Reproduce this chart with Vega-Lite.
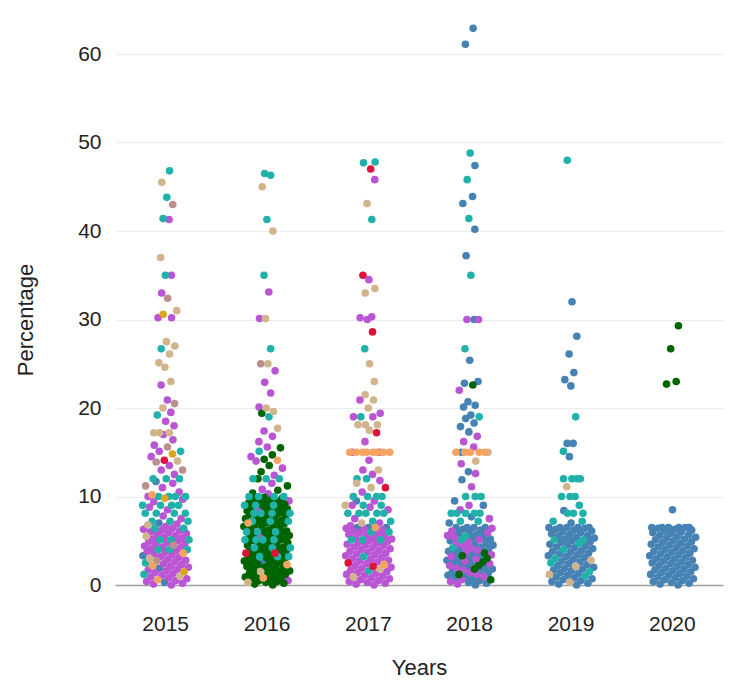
{
"$schema":"https://vega.github.io/schema/vega-lite/v6.json",
"width":608,"height":531,
"padding":{"left":14,"top":24,"right":14,"bottom":8},
"config":{"view":{"stroke":null},"font":"Liberation Sans"},
"data":{"values":[
{"year":2015,"group":"G2","pct":0},{"year":2015,"group":"G2","pct":0.1},{"year":2015,"group":"G2","pct":0.2},{"year":2015,"group":"G2","pct":0.4},{"year":2015,"group":"G2","pct":0.5},{"year":2015,"group":"G2","pct":0.7},{"year":2015,"group":"G2","pct":0.8},{"year":2015,"group":"G2","pct":0.9},{"year":2015,"group":"G2","pct":1.1},{"year":2015,"group":"G2","pct":1.3},{"year":2015,"group":"G2","pct":1.4},{"year":2015,"group":"G2","pct":1.6},{"year":2015,"group":"G2","pct":1.7},{"year":2015,"group":"G2","pct":1.8},{"year":2015,"group":"G2","pct":2},{"year":2015,"group":"G2","pct":2.1},{"year":2015,"group":"G2","pct":2.3},{"year":2015,"group":"G2","pct":2.4},{"year":2015,"group":"G2","pct":2.6},{"year":2015,"group":"G2","pct":2.8},{"year":2015,"group":"G2","pct":2.9},{"year":2015,"group":"G2","pct":3.1},{"year":2015,"group":"G2","pct":3.2},{"year":2015,"group":"G2","pct":3.4},{"year":2015,"group":"G2","pct":3.5},{"year":2015,"group":"G2","pct":3.7},{"year":2015,"group":"G2","pct":3.8},{"year":2015,"group":"G2","pct":3.9},{"year":2015,"group":"G2","pct":4.1},{"year":2015,"group":"G2","pct":4.2},{"year":2015,"group":"G2","pct":4.3},{"year":2015,"group":"G2","pct":4.4},{"year":2015,"group":"G2","pct":4.6},{"year":2015,"group":"G2","pct":4.7},{"year":2015,"group":"G2","pct":4.8},{"year":2015,"group":"G2","pct":4.9},{"year":2015,"group":"G2","pct":5},{"year":2015,"group":"G2","pct":5.2},{"year":2015,"group":"G2","pct":5.3},{"year":2015,"group":"G2","pct":5.4},{"year":2015,"group":"G2","pct":5.6},{"year":2015,"group":"G2","pct":5.7},{"year":2015,"group":"G2","pct":5.8},{"year":2015,"group":"G2","pct":5.9},{"year":2015,"group":"G2","pct":6},{"year":2015,"group":"G2","pct":6.1},{"year":2015,"group":"G2","pct":6.2},{"year":2015,"group":"G2","pct":6.3},{"year":2015,"group":"G2","pct":6.4},
{"year":2015,"group":"G2","pct":6.6},{"year":2015,"group":"G2","pct":6.9},{"year":2015,"group":"G2","pct":7.5},{"year":2015,"group":"G2","pct":7.8},{"year":2015,"group":"G2","pct":8.5},{"year":2015,"group":"G2","pct":8.8},{"year":2015,"group":"G2","pct":9.4},{"year":2015,"group":"G2","pct":9.7},{"year":2015,"group":"G2","pct":10},{"year":2015,"group":"G2","pct":10.5},{"year":2015,"group":"G2","pct":11},{"year":2015,"group":"G2","pct":11.5},{"year":2015,"group":"G2","pct":12.5},{"year":2015,"group":"G2","pct":13},{"year":2015,"group":"G2","pct":13.5},{"year":2015,"group":"G2","pct":14.5},{"year":2015,"group":"G2","pct":15.1},{"year":2015,"group":"G2","pct":15.8},{"year":2015,"group":"G2","pct":16.4},{"year":2015,"group":"G2","pct":17},{"year":2015,"group":"G2","pct":18},{"year":2015,"group":"G2","pct":18.5},{"year":2015,"group":"G2","pct":19.5},{"year":2015,"group":"G2","pct":20.9},{"year":2015,"group":"G2","pct":22.6},{"year":2015,"group":"G2","pct":30.2},{"year":2015,"group":"G2","pct":30.2},{"year":2015,"group":"G2","pct":33},{"year":2015,"group":"G2","pct":35},{"year":2015,"group":"G2","pct":41.3},
{"year":2015,"group":"G1","pct":0.3},{"year":2015,"group":"G1","pct":1.9},{"year":2015,"group":"G1","pct":3.3},{"year":2015,"group":"G1","pct":7},{"year":2015,"group":"G1","pct":11.7},
{"year":2015,"group":"G7","pct":0.6},{"year":2015,"group":"G7","pct":2.2},{"year":2015,"group":"G7","pct":3.6},{"year":2015,"group":"G7","pct":10.2},
{"year":2015,"group":"G5","pct":1},{"year":2015,"group":"G5","pct":3},{"year":2015,"group":"G5","pct":5.5},{"year":2015,"group":"G5","pct":6.8},{"year":2015,"group":"G5","pct":14},{"year":2015,"group":"G5","pct":17.2},{"year":2015,"group":"G5","pct":17.2},{"year":2015,"group":"G5","pct":17.2},{"year":2015,"group":"G5","pct":20},{"year":2015,"group":"G5","pct":23},{"year":2015,"group":"G5","pct":24.6},{"year":2015,"group":"G5","pct":25.1},{"year":2015,"group":"G5","pct":26.1},{"year":2015,"group":"G5","pct":27},{"year":2015,"group":"G5","pct":27.5},{"year":2015,"group":"G5","pct":31},{"year":2015,"group":"G5","pct":37},{"year":2015,"group":"G5","pct":45.5},
{"year":2015,"group":"G4","pct":1.2},{"year":2015,"group":"G4","pct":2.5},{"year":2015,"group":"G4","pct":4},{"year":2015,"group":"G4","pct":4},{"year":2015,"group":"G4","pct":4},{"year":2015,"group":"G4","pct":5.1},{"year":2015,"group":"G4","pct":5.1},{"year":2015,"group":"G4","pct":5.1},{"year":2015,"group":"G4","pct":6.4},{"year":2015,"group":"G4","pct":6.4},{"year":2015,"group":"G4","pct":7.2},{"year":2015,"group":"G4","pct":7.2},{"year":2015,"group":"G4","pct":7.2},{"year":2015,"group":"G4","pct":8.1},{"year":2015,"group":"G4","pct":8.1},{"year":2015,"group":"G4","pct":8.1},{"year":2015,"group":"G4","pct":8.1},{"year":2015,"group":"G4","pct":9},{"year":2015,"group":"G4","pct":9},{"year":2015,"group":"G4","pct":9},{"year":2015,"group":"G4","pct":9},{"year":2015,"group":"G4","pct":10},{"year":2015,"group":"G4","pct":10},{"year":2015,"group":"G4","pct":10},{"year":2015,"group":"G4","pct":10},{"year":2015,"group":"G4","pct":12},{"year":2015,"group":"G4","pct":12},{"year":2015,"group":"G4","pct":12},{"year":2015,"group":"G4","pct":15.1},{"year":2015,"group":"G4","pct":19.2},{"year":2015,"group":"G4","pct":26.7},{"year":2015,"group":"G4","pct":35},{"year":2015,"group":"G4","pct":41.4},{"year":2015,"group":"G4","pct":43.8},{"year":2015,"group":"G4","pct":46.8},
{"year":2015,"group":"G8","pct":1.5},{"year":2015,"group":"G8","pct":9.8},{"year":2015,"group":"G8","pct":14.8},{"year":2015,"group":"G8","pct":30.6},
{"year":2015,"group":"G6","pct":2.7},{"year":2015,"group":"G6","pct":4.5},{"year":2015,"group":"G6","pct":11.2},{"year":2015,"group":"G6","pct":13},{"year":2015,"group":"G6","pct":13.9},{"year":2015,"group":"G6","pct":15.6},{"year":2015,"group":"G6","pct":20.5},{"year":2015,"group":"G6","pct":32.4},{"year":2015,"group":"G6","pct":43},
{"year":2015,"group":"G9","pct":14.1},

{"year":2016,"group":"G3","pct":0},{"year":2016,"group":"G3","pct":0.1},{"year":2016,"group":"G3","pct":0.2},{"year":2016,"group":"G3","pct":0.3},{"year":2016,"group":"G3","pct":0.4},{"year":2016,"group":"G3","pct":0.5},{"year":2016,"group":"G3","pct":0.6},{"year":2016,"group":"G3","pct":0.7},{"year":2016,"group":"G3","pct":0.8},{"year":2016,"group":"G3","pct":0.9},{"year":2016,"group":"G3","pct":1},{"year":2016,"group":"G3","pct":1.1},{"year":2016,"group":"G3","pct":1.2},{"year":2016,"group":"G3","pct":1.3},{"year":2016,"group":"G3","pct":1.4},{"year":2016,"group":"G3","pct":1.5},{"year":2016,"group":"G3","pct":1.6},{"year":2016,"group":"G3","pct":1.7},{"year":2016,"group":"G3","pct":1.8},{"year":2016,"group":"G3","pct":1.9},{"year":2016,"group":"G3","pct":2},{"year":2016,"group":"G3","pct":2.1},{"year":2016,"group":"G3","pct":2.2},{"year":2016,"group":"G3","pct":2.3},{"year":2016,"group":"G3","pct":2.4},{"year":2016,"group":"G3","pct":2.5},{"year":2016,"group":"G3","pct":2.6},{"year":2016,"group":"G3","pct":2.7},{"year":2016,"group":"G3","pct":2.8},{"year":2016,"group":"G3","pct":2.9},{"year":2016,"group":"G3","pct":3},{"year":2016,"group":"G3","pct":3.1},{"year":2016,"group":"G3","pct":3.2},{"year":2016,"group":"G3","pct":3.3},{"year":2016,"group":"G3","pct":3.4},{"year":2016,"group":"G3","pct":3.5},{"year":2016,"group":"G3","pct":3.6},{"year":2016,"group":"G3","pct":3.7},{"year":2016,"group":"G3","pct":3.8},{"year":2016,"group":"G3","pct":3.9},{"year":2016,"group":"G3","pct":4},{"year":2016,"group":"G3","pct":4.1},{"year":2016,"group":"G3","pct":4.2},{"year":2016,"group":"G3","pct":4.3},{"year":2016,"group":"G3","pct":4.4},{"year":2016,"group":"G3","pct":4.5},{"year":2016,"group":"G3","pct":4.6},{"year":2016,"group":"G3","pct":4.7},{"year":2016,"group":"G3","pct":4.8},{"year":2016,"group":"G3","pct":4.9},{"year":2016,"group":"G3","pct":5},{"year":2016,"group":"G3","pct":5.1},{"year":2016,"group":"G3","pct":5.2},{"year":2016,"group":"G3","pct":5.3},{"year":2016,"group":"G3","pct":5.4},{"year":2016,"group":"G3","pct":5.5},{"year":2016,"group":"G3","pct":5.6},{"year":2016,"group":"G3","pct":5.7},{"year":2016,"group":"G3","pct":5.8},{"year":2016,"group":"G3","pct":5.9},{"year":2016,"group":"G3","pct":6},{"year":2016,"group":"G3","pct":6.1},{"year":2016,"group":"G3","pct":6.2},{"year":2016,"group":"G3","pct":6.3},{"year":2016,"group":"G3","pct":6.4},{"year":2016,"group":"G3","pct":6.5},{"year":2016,"group":"G3","pct":6.6},{"year":2016,"group":"G3","pct":6.7},{"year":2016,"group":"G3","pct":6.8},{"year":2016,"group":"G3","pct":6.9},{"year":2016,"group":"G3","pct":7},{"year":2016,"group":"G3","pct":7.1},{"year":2016,"group":"G3","pct":7.2},{"year":2016,"group":"G3","pct":7.3},{"year":2016,"group":"G3","pct":7.4},{"year":2016,"group":"G3","pct":7.5},{"year":2016,"group":"G3","pct":7.6},{"year":2016,"group":"G3","pct":7.7},{"year":2016,"group":"G3","pct":7.8},{"year":2016,"group":"G3","pct":7.9},{"year":2016,"group":"G3","pct":8},{"year":2016,"group":"G3","pct":8.1},{"year":2016,"group":"G3","pct":8.2},{"year":2016,"group":"G3","pct":8.3},{"year":2016,"group":"G3","pct":8.4},{"year":2016,"group":"G3","pct":8.5},{"year":2016,"group":"G3","pct":8.6},{"year":2016,"group":"G3","pct":8.7},{"year":2016,"group":"G3","pct":8.8},{"year":2016,"group":"G3","pct":8.9},{"year":2016,"group":"G3","pct":9},{"year":2016,"group":"G3","pct":9.1},{"year":2016,"group":"G3","pct":9.2},{"year":2016,"group":"G3","pct":9.3},{"year":2016,"group":"G3","pct":9.4},{"year":2016,"group":"G3","pct":9.5},{"year":2016,"group":"G3","pct":9.6},{"year":2016,"group":"G3","pct":9.7},{"year":2016,"group":"G3","pct":9.8},{"year":2016,"group":"G3","pct":9.9},
{"year":2016,"group":"G3","pct":10.4},{"year":2016,"group":"G3","pct":10.7},{"year":2016,"group":"G3","pct":11.2},{"year":2016,"group":"G3","pct":12},{"year":2016,"group":"G3","pct":12.8},{"year":2016,"group":"G3","pct":13.5},{"year":2016,"group":"G3","pct":14.2},{"year":2016,"group":"G3","pct":14.7},{"year":2016,"group":"G3","pct":15.5},{"year":2016,"group":"G3","pct":19.4},
{"year":2016,"group":"G4","pct":3.2},{"year":2016,"group":"G4","pct":3.2},{"year":2016,"group":"G4","pct":3.2},{"year":2016,"group":"G4","pct":4.2},{"year":2016,"group":"G4","pct":4.2},{"year":2016,"group":"G4","pct":4.2},{"year":2016,"group":"G4","pct":5.1},{"year":2016,"group":"G4","pct":5.1},{"year":2016,"group":"G4","pct":5.1},{"year":2016,"group":"G4","pct":5.1},{"year":2016,"group":"G4","pct":6},{"year":2016,"group":"G4","pct":6},{"year":2016,"group":"G4","pct":6},{"year":2016,"group":"G4","pct":7.2},{"year":2016,"group":"G4","pct":7.2},{"year":2016,"group":"G4","pct":7.2},{"year":2016,"group":"G4","pct":8.1},{"year":2016,"group":"G4","pct":8.1},{"year":2016,"group":"G4","pct":8.1},{"year":2016,"group":"G4","pct":8.1},{"year":2016,"group":"G4","pct":9},{"year":2016,"group":"G4","pct":9},{"year":2016,"group":"G4","pct":9},{"year":2016,"group":"G4","pct":10},{"year":2016,"group":"G4","pct":10},{"year":2016,"group":"G4","pct":10},{"year":2016,"group":"G4","pct":10},{"year":2016,"group":"G4","pct":12},{"year":2016,"group":"G4","pct":12},{"year":2016,"group":"G4","pct":12},{"year":2016,"group":"G4","pct":15.1},{"year":2016,"group":"G4","pct":19},{"year":2016,"group":"G4","pct":26.7},{"year":2016,"group":"G4","pct":35},{"year":2016,"group":"G4","pct":41.3},{"year":2016,"group":"G4","pct":46.3},{"year":2016,"group":"G4","pct":46.5},
{"year":2016,"group":"G9","pct":3.6},{"year":2016,"group":"G9","pct":3.6},
{"year":2016,"group":"G7","pct":0.8},{"year":2016,"group":"G7","pct":2.3},{"year":2016,"group":"G7","pct":7},{"year":2016,"group":"G7","pct":14.1},
{"year":2016,"group":"G5","pct":0.3},{"year":2016,"group":"G5","pct":1.5},{"year":2016,"group":"G5","pct":17.7},{"year":2016,"group":"G5","pct":19.6},{"year":2016,"group":"G5","pct":20},{"year":2016,"group":"G5","pct":25},{"year":2016,"group":"G5","pct":30.1},{"year":2016,"group":"G5","pct":40},{"year":2016,"group":"G5","pct":45},
{"year":2016,"group":"G1","pct":2.6},
{"year":2016,"group":"G6","pct":25},
{"year":2016,"group":"G2","pct":0.5},{"year":2016,"group":"G2","pct":5.5},{"year":2016,"group":"G2","pct":8.5},{"year":2016,"group":"G2","pct":9.5},{"year":2016,"group":"G2","pct":10.3},{"year":2016,"group":"G2","pct":10.8},{"year":2016,"group":"G2","pct":11.5},{"year":2016,"group":"G2","pct":12.4},{"year":2016,"group":"G2","pct":13.2},{"year":2016,"group":"G2","pct":14},{"year":2016,"group":"G2","pct":14.5},{"year":2016,"group":"G2","pct":15.6},{"year":2016,"group":"G2","pct":16.2},{"year":2016,"group":"G2","pct":16.8},{"year":2016,"group":"G2","pct":17.4},{"year":2016,"group":"G2","pct":20.1},{"year":2016,"group":"G2","pct":21.7},{"year":2016,"group":"G2","pct":22.9},{"year":2016,"group":"G2","pct":24.2},{"year":2016,"group":"G2","pct":30.1},{"year":2016,"group":"G2","pct":33.1},

{"year":2017,"group":"G2","pct":0},{"year":2017,"group":"G2","pct":0.1},{"year":2017,"group":"G2","pct":0.2},{"year":2017,"group":"G2","pct":0.3},{"year":2017,"group":"G2","pct":0.4},{"year":2017,"group":"G2","pct":0.5},{"year":2017,"group":"G2","pct":0.6},{"year":2017,"group":"G2","pct":0.7},{"year":2017,"group":"G2","pct":0.8},{"year":2017,"group":"G2","pct":1},{"year":2017,"group":"G2","pct":1.1},{"year":2017,"group":"G2","pct":1.2},{"year":2017,"group":"G2","pct":1.3},{"year":2017,"group":"G2","pct":1.4},{"year":2017,"group":"G2","pct":1.5},{"year":2017,"group":"G2","pct":1.7},{"year":2017,"group":"G2","pct":1.9},{"year":2017,"group":"G2","pct":2},{"year":2017,"group":"G2","pct":2.2},{"year":2017,"group":"G2","pct":2.4},{"year":2017,"group":"G2","pct":2.6},{"year":2017,"group":"G2","pct":2.7},{"year":2017,"group":"G2","pct":2.8},{"year":2017,"group":"G2","pct":2.9},{"year":2017,"group":"G2","pct":3},{"year":2017,"group":"G2","pct":3.1},{"year":2017,"group":"G2","pct":3.3},{"year":2017,"group":"G2","pct":3.4},{"year":2017,"group":"G2","pct":3.5},{"year":2017,"group":"G2","pct":3.6},{"year":2017,"group":"G2","pct":3.7},{"year":2017,"group":"G2","pct":3.8},{"year":2017,"group":"G2","pct":3.9},{"year":2017,"group":"G2","pct":4},{"year":2017,"group":"G2","pct":4.1},{"year":2017,"group":"G2","pct":4.2},{"year":2017,"group":"G2","pct":4.3},{"year":2017,"group":"G2","pct":4.4},{"year":2017,"group":"G2","pct":4.5},{"year":2017,"group":"G2","pct":4.6},{"year":2017,"group":"G2","pct":4.7},{"year":2017,"group":"G2","pct":4.8},{"year":2017,"group":"G2","pct":4.9},{"year":2017,"group":"G2","pct":5},{"year":2017,"group":"G2","pct":5.2},{"year":2017,"group":"G2","pct":5.3},{"year":2017,"group":"G2","pct":5.4},{"year":2017,"group":"G2","pct":5.5},{"year":2017,"group":"G2","pct":5.6},{"year":2017,"group":"G2","pct":5.7},{"year":2017,"group":"G2","pct":5.8},{"year":2017,"group":"G2","pct":5.9},{"year":2017,"group":"G2","pct":6.1},{"year":2017,"group":"G2","pct":6.2},{"year":2017,"group":"G2","pct":6.3},{"year":2017,"group":"G2","pct":6.4},
{"year":2017,"group":"G2","pct":6.7},{"year":2017,"group":"G2","pct":7},{"year":2017,"group":"G2","pct":7.5},{"year":2017,"group":"G2","pct":8.5},{"year":2017,"group":"G2","pct":8.8},{"year":2017,"group":"G2","pct":9},{"year":2017,"group":"G2","pct":9.5},{"year":2017,"group":"G2","pct":10.5},{"year":2017,"group":"G2","pct":11.8},{"year":2017,"group":"G2","pct":12.5},{"year":2017,"group":"G2","pct":13},{"year":2017,"group":"G2","pct":14.1},{"year":2017,"group":"G2","pct":15},{"year":2017,"group":"G2","pct":15},{"year":2017,"group":"G2","pct":16.2},{"year":2017,"group":"G2","pct":19},{"year":2017,"group":"G2","pct":19},{"year":2017,"group":"G2","pct":19.4},{"year":2017,"group":"G2","pct":20.9},{"year":2017,"group":"G2","pct":30},{"year":2017,"group":"G2","pct":30.2},{"year":2017,"group":"G2","pct":30.3},{"year":2017,"group":"G2","pct":34.5},{"year":2017,"group":"G2","pct":45.8},
{"year":2017,"group":"G4","pct":1.6},{"year":2017,"group":"G4","pct":3.2},{"year":2017,"group":"G4","pct":5.1},{"year":2017,"group":"G4","pct":5.1},{"year":2017,"group":"G4","pct":5.1},{"year":2017,"group":"G4","pct":6},{"year":2017,"group":"G4","pct":6},{"year":2017,"group":"G4","pct":7.2},{"year":2017,"group":"G4","pct":7.2},{"year":2017,"group":"G4","pct":8.1},{"year":2017,"group":"G4","pct":8.1},{"year":2017,"group":"G4","pct":8.1},{"year":2017,"group":"G4","pct":8.1},{"year":2017,"group":"G4","pct":8.1},{"year":2017,"group":"G4","pct":9},{"year":2017,"group":"G4","pct":9},{"year":2017,"group":"G4","pct":10},{"year":2017,"group":"G4","pct":10},{"year":2017,"group":"G4","pct":10},{"year":2017,"group":"G4","pct":10},{"year":2017,"group":"G4","pct":12},{"year":2017,"group":"G4","pct":12},{"year":2017,"group":"G4","pct":19},{"year":2017,"group":"G4","pct":26.7},{"year":2017,"group":"G4","pct":41.3},{"year":2017,"group":"G4","pct":47.7},{"year":2017,"group":"G4","pct":47.8},
{"year":2017,"group":"G9","pct":2.1},{"year":2017,"group":"G9","pct":2.5},{"year":2017,"group":"G9","pct":11},{"year":2017,"group":"G9","pct":17.2},{"year":2017,"group":"G9","pct":28.6},{"year":2017,"group":"G9","pct":35},{"year":2017,"group":"G9","pct":47},
{"year":2017,"group":"G7","pct":2.3},{"year":2017,"group":"G7","pct":6.5},{"year":2017,"group":"G7","pct":15},{"year":2017,"group":"G7","pct":15},{"year":2017,"group":"G7","pct":15},{"year":2017,"group":"G7","pct":15},{"year":2017,"group":"G7","pct":15},{"year":2017,"group":"G7","pct":15},{"year":2017,"group":"G7","pct":15},{"year":2017,"group":"G7","pct":15},
{"year":2017,"group":"G5","pct":0.9},{"year":2017,"group":"G5","pct":1.8},{"year":2017,"group":"G5","pct":7},{"year":2017,"group":"G5","pct":9},{"year":2017,"group":"G5","pct":11},{"year":2017,"group":"G5","pct":11.5},{"year":2017,"group":"G5","pct":13},{"year":2017,"group":"G5","pct":17.5},{"year":2017,"group":"G5","pct":18.1},{"year":2017,"group":"G5","pct":18.1},{"year":2017,"group":"G5","pct":18.1},{"year":2017,"group":"G5","pct":20},{"year":2017,"group":"G5","pct":20.9},{"year":2017,"group":"G5","pct":21.5},{"year":2017,"group":"G5","pct":23},{"year":2017,"group":"G5","pct":25},{"year":2017,"group":"G5","pct":33},{"year":2017,"group":"G5","pct":33.5},{"year":2017,"group":"G5","pct":43.1},
{"year":2017,"group":"G1","pct":6.5},{"year":2017,"group":"G1","pct":6.5},{"year":2017,"group":"G1","pct":6.5},{"year":2017,"group":"G1","pct":9.5},

{"year":2018,"group":"G1","pct":0},{"year":2018,"group":"G1","pct":0.2},{"year":2018,"group":"G1","pct":0.3},{"year":2018,"group":"G1","pct":0.5},{"year":2018,"group":"G1","pct":0.7},{"year":2018,"group":"G1","pct":0.8},{"year":2018,"group":"G1","pct":1},{"year":2018,"group":"G1","pct":1.1},{"year":2018,"group":"G1","pct":1.3},{"year":2018,"group":"G1","pct":1.5},{"year":2018,"group":"G1","pct":1.6},{"year":2018,"group":"G1","pct":1.8},{"year":2018,"group":"G1","pct":2},{"year":2018,"group":"G1","pct":2.1},{"year":2018,"group":"G1","pct":2.3},{"year":2018,"group":"G1","pct":2.5},{"year":2018,"group":"G1","pct":2.6},{"year":2018,"group":"G1","pct":2.8},{"year":2018,"group":"G1","pct":3},{"year":2018,"group":"G1","pct":3.1},{"year":2018,"group":"G1","pct":3.3},{"year":2018,"group":"G1","pct":3.5},{"year":2018,"group":"G1","pct":3.6},{"year":2018,"group":"G1","pct":3.8},{"year":2018,"group":"G1","pct":4},{"year":2018,"group":"G1","pct":4.1},{"year":2018,"group":"G1","pct":4.3},{"year":2018,"group":"G1","pct":4.5},{"year":2018,"group":"G1","pct":4.6},{"year":2018,"group":"G1","pct":4.8},{"year":2018,"group":"G1","pct":5},{"year":2018,"group":"G1","pct":5.2},{"year":2018,"group":"G1","pct":5.3},{"year":2018,"group":"G1","pct":5.5},{"year":2018,"group":"G1","pct":5.7},{"year":2018,"group":"G1","pct":5.8},{"year":2018,"group":"G1","pct":6},{"year":2018,"group":"G1","pct":6.2},{"year":2018,"group":"G1","pct":6.3},{"year":2018,"group":"G1","pct":6.5},{"year":2018,"group":"G1","pct":6.5},{"year":2018,"group":"G1","pct":6.5},{"year":2018,"group":"G1","pct":6.5},
{"year":2018,"group":"G1","pct":7},{"year":2018,"group":"G1","pct":7.7},{"year":2018,"group":"G1","pct":9},{"year":2018,"group":"G1","pct":9.5},{"year":2018,"group":"G1","pct":11.9},{"year":2018,"group":"G1","pct":12.8},{"year":2018,"group":"G1","pct":15},{"year":2018,"group":"G1","pct":17.3},{"year":2018,"group":"G1","pct":17.9},{"year":2018,"group":"G1","pct":18.3},{"year":2018,"group":"G1","pct":18.8},{"year":2018,"group":"G1","pct":19.2},{"year":2018,"group":"G1","pct":20.1},{"year":2018,"group":"G1","pct":20.3},{"year":2018,"group":"G1","pct":20.7},{"year":2018,"group":"G1","pct":22.8},{"year":2018,"group":"G1","pct":23},{"year":2018,"group":"G1","pct":25.4},{"year":2018,"group":"G1","pct":30},{"year":2018,"group":"G1","pct":37.2},{"year":2018,"group":"G1","pct":40.2},{"year":2018,"group":"G1","pct":43.1},{"year":2018,"group":"G1","pct":43.9},{"year":2018,"group":"G1","pct":47.4},{"year":2018,"group":"G1","pct":61.1},{"year":2018,"group":"G1","pct":62.9},
{"year":2018,"group":"G2","pct":0.1},{"year":2018,"group":"G2","pct":0.4},{"year":2018,"group":"G2","pct":0.6},{"year":2018,"group":"G2","pct":0.9},{"year":2018,"group":"G2","pct":1.2},{"year":2018,"group":"G2","pct":1.4},{"year":2018,"group":"G2","pct":1.7},{"year":2018,"group":"G2","pct":1.9},{"year":2018,"group":"G2","pct":2.2},{"year":2018,"group":"G2","pct":2.4},{"year":2018,"group":"G2","pct":2.7},{"year":2018,"group":"G2","pct":2.9},{"year":2018,"group":"G2","pct":3.2},{"year":2018,"group":"G2","pct":3.4},{"year":2018,"group":"G2","pct":3.7},{"year":2018,"group":"G2","pct":3.9},{"year":2018,"group":"G2","pct":4.2},{"year":2018,"group":"G2","pct":4.4},{"year":2018,"group":"G2","pct":4.7},{"year":2018,"group":"G2","pct":4.9},{"year":2018,"group":"G2","pct":5.1},{"year":2018,"group":"G2","pct":5.4},{"year":2018,"group":"G2","pct":5.6},{"year":2018,"group":"G2","pct":5.9},{"year":2018,"group":"G2","pct":6.1},{"year":2018,"group":"G2","pct":6.4},
{"year":2018,"group":"G2","pct":7.5},{"year":2018,"group":"G2","pct":8.5},{"year":2018,"group":"G2","pct":9},{"year":2018,"group":"G2","pct":11.1},{"year":2018,"group":"G2","pct":12.6},{"year":2018,"group":"G2","pct":13.7},{"year":2018,"group":"G2","pct":15.6},{"year":2018,"group":"G2","pct":16.2},{"year":2018,"group":"G2","pct":16.8},{"year":2018,"group":"G2","pct":22},{"year":2018,"group":"G2","pct":30},{"year":2018,"group":"G2","pct":30},
{"year":2018,"group":"G3","pct":0.6},{"year":2018,"group":"G3","pct":1.2},{"year":2018,"group":"G3","pct":1.8},{"year":2018,"group":"G3","pct":2.2},{"year":2018,"group":"G3","pct":2.6},{"year":2018,"group":"G3","pct":3},{"year":2018,"group":"G3","pct":3.3},{"year":2018,"group":"G3","pct":3.6},{"year":2018,"group":"G3","pct":22.6},
{"year":2018,"group":"G4","pct":4.2},{"year":2018,"group":"G4","pct":5.1},{"year":2018,"group":"G4","pct":5.5},{"year":2018,"group":"G4","pct":7.2},{"year":2018,"group":"G4","pct":7.2},{"year":2018,"group":"G4","pct":8.1},{"year":2018,"group":"G4","pct":8.1},{"year":2018,"group":"G4","pct":8.1},{"year":2018,"group":"G4","pct":8.1},{"year":2018,"group":"G4","pct":8.1},{"year":2018,"group":"G4","pct":10},{"year":2018,"group":"G4","pct":10},{"year":2018,"group":"G4","pct":10},{"year":2018,"group":"G4","pct":19},{"year":2018,"group":"G4","pct":26.7},{"year":2018,"group":"G4","pct":35},{"year":2018,"group":"G4","pct":41.4},{"year":2018,"group":"G4","pct":45.8},{"year":2018,"group":"G4","pct":48.8},
{"year":2018,"group":"G7","pct":15},{"year":2018,"group":"G7","pct":15},{"year":2018,"group":"G7","pct":15},{"year":2018,"group":"G7","pct":15},{"year":2018,"group":"G7","pct":15},
{"year":2018,"group":"G5","pct":14},{"year":2018,"group":"G5","pct":15},

{"year":2019,"group":"G1","pct":0},{"year":2019,"group":"G1","pct":0.1},{"year":2019,"group":"G1","pct":0.2},{"year":2019,"group":"G1","pct":0.4},{"year":2019,"group":"G1","pct":0.5},{"year":2019,"group":"G1","pct":0.6},{"year":2019,"group":"G1","pct":0.7},{"year":2019,"group":"G1","pct":0.8},{"year":2019,"group":"G1","pct":0.9},{"year":2019,"group":"G1","pct":1.1},{"year":2019,"group":"G1","pct":1.3},{"year":2019,"group":"G1","pct":1.4},{"year":2019,"group":"G1","pct":1.6},{"year":2019,"group":"G1","pct":1.7},{"year":2019,"group":"G1","pct":1.8},{"year":2019,"group":"G1","pct":1.9},{"year":2019,"group":"G1","pct":2},{"year":2019,"group":"G1","pct":2.2},{"year":2019,"group":"G1","pct":2.3},{"year":2019,"group":"G1","pct":2.4},{"year":2019,"group":"G1","pct":2.6},{"year":2019,"group":"G1","pct":2.7},{"year":2019,"group":"G1","pct":2.9},{"year":2019,"group":"G1","pct":3.1},{"year":2019,"group":"G1","pct":3.2},{"year":2019,"group":"G1","pct":3.3},{"year":2019,"group":"G1","pct":3.4},{"year":2019,"group":"G1","pct":3.5},{"year":2019,"group":"G1","pct":3.6},{"year":2019,"group":"G1","pct":3.7},{"year":2019,"group":"G1","pct":3.8},{"year":2019,"group":"G1","pct":3.9},{"year":2019,"group":"G1","pct":4.1},{"year":2019,"group":"G1","pct":4.2},{"year":2019,"group":"G1","pct":4.3},{"year":2019,"group":"G1","pct":4.4},{"year":2019,"group":"G1","pct":4.5},{"year":2019,"group":"G1","pct":4.6},{"year":2019,"group":"G1","pct":4.8},{"year":2019,"group":"G1","pct":4.9},{"year":2019,"group":"G1","pct":5},{"year":2019,"group":"G1","pct":5.2},{"year":2019,"group":"G1","pct":5.3},{"year":2019,"group":"G1","pct":5.4},{"year":2019,"group":"G1","pct":5.5},{"year":2019,"group":"G1","pct":5.6},{"year":2019,"group":"G1","pct":5.7},{"year":2019,"group":"G1","pct":5.8},{"year":2019,"group":"G1","pct":5.9},{"year":2019,"group":"G1","pct":6},{"year":2019,"group":"G1","pct":6.1},{"year":2019,"group":"G1","pct":6.2},{"year":2019,"group":"G1","pct":6.3},{"year":2019,"group":"G1","pct":6.4},{"year":2019,"group":"G1","pct":6.5},{"year":2019,"group":"G1","pct":6.5},{"year":2019,"group":"G1","pct":6.5},{"year":2019,"group":"G1","pct":6.5},{"year":2019,"group":"G1","pct":6.5},
{"year":2019,"group":"G1","pct":7},{"year":2019,"group":"G1","pct":8.4},{"year":2019,"group":"G1","pct":14.5},{"year":2019,"group":"G1","pct":16},{"year":2019,"group":"G1","pct":16},{"year":2019,"group":"G1","pct":22.5},{"year":2019,"group":"G1","pct":23.2},{"year":2019,"group":"G1","pct":24},{"year":2019,"group":"G1","pct":26.1},{"year":2019,"group":"G1","pct":28.1},{"year":2019,"group":"G1","pct":32},
{"year":2019,"group":"G4","pct":1},{"year":2019,"group":"G4","pct":1.5},{"year":2019,"group":"G4","pct":2.5},{"year":2019,"group":"G4","pct":3},{"year":2019,"group":"G4","pct":4},{"year":2019,"group":"G4","pct":4.7},{"year":2019,"group":"G4","pct":5.1},{"year":2019,"group":"G4","pct":5.1},{"year":2019,"group":"G4","pct":7.2},{"year":2019,"group":"G4","pct":7.2},{"year":2019,"group":"G4","pct":8.1},{"year":2019,"group":"G4","pct":8.1},{"year":2019,"group":"G4","pct":8.1},{"year":2019,"group":"G4","pct":9},{"year":2019,"group":"G4","pct":10},{"year":2019,"group":"G4","pct":10},{"year":2019,"group":"G4","pct":10},{"year":2019,"group":"G4","pct":12},{"year":2019,"group":"G4","pct":12},{"year":2019,"group":"G4","pct":12},{"year":2019,"group":"G4","pct":12},{"year":2019,"group":"G4","pct":15.1},{"year":2019,"group":"G4","pct":19},{"year":2019,"group":"G4","pct":48},
{"year":2019,"group":"G5","pct":0.3},{"year":2019,"group":"G5","pct":1.2},{"year":2019,"group":"G5","pct":2.1},{"year":2019,"group":"G5","pct":2.8},{"year":2019,"group":"G5","pct":11.1},

{"year":2020,"group":"G1","pct":0},{"year":2020,"group":"G1","pct":0.1},{"year":2020,"group":"G1","pct":0.2},{"year":2020,"group":"G1","pct":0.3},{"year":2020,"group":"G1","pct":0.4},{"year":2020,"group":"G1","pct":0.5},{"year":2020,"group":"G1","pct":0.6},{"year":2020,"group":"G1","pct":0.7},{"year":2020,"group":"G1","pct":0.8},{"year":2020,"group":"G1","pct":0.9},{"year":2020,"group":"G1","pct":1},{"year":2020,"group":"G1","pct":1.1},{"year":2020,"group":"G1","pct":1.2},{"year":2020,"group":"G1","pct":1.3},{"year":2020,"group":"G1","pct":1.4},{"year":2020,"group":"G1","pct":1.5},{"year":2020,"group":"G1","pct":1.6},{"year":2020,"group":"G1","pct":1.7},{"year":2020,"group":"G1","pct":1.8},{"year":2020,"group":"G1","pct":1.9},{"year":2020,"group":"G1","pct":2},{"year":2020,"group":"G1","pct":2.1},{"year":2020,"group":"G1","pct":2.2},{"year":2020,"group":"G1","pct":2.3},{"year":2020,"group":"G1","pct":2.4},{"year":2020,"group":"G1","pct":2.5},{"year":2020,"group":"G1","pct":2.6},{"year":2020,"group":"G1","pct":2.7},{"year":2020,"group":"G1","pct":2.8},{"year":2020,"group":"G1","pct":2.9},{"year":2020,"group":"G1","pct":3},{"year":2020,"group":"G1","pct":3.1},{"year":2020,"group":"G1","pct":3.2},{"year":2020,"group":"G1","pct":3.3},{"year":2020,"group":"G1","pct":3.4},{"year":2020,"group":"G1","pct":3.5},{"year":2020,"group":"G1","pct":3.6},{"year":2020,"group":"G1","pct":3.7},{"year":2020,"group":"G1","pct":3.8},{"year":2020,"group":"G1","pct":3.9},{"year":2020,"group":"G1","pct":4},{"year":2020,"group":"G1","pct":4.1},{"year":2020,"group":"G1","pct":4.2},{"year":2020,"group":"G1","pct":4.3},{"year":2020,"group":"G1","pct":4.4},{"year":2020,"group":"G1","pct":4.5},{"year":2020,"group":"G1","pct":4.6},{"year":2020,"group":"G1","pct":4.7},{"year":2020,"group":"G1","pct":4.8},{"year":2020,"group":"G1","pct":4.9},{"year":2020,"group":"G1","pct":5},{"year":2020,"group":"G1","pct":5.1},{"year":2020,"group":"G1","pct":5.2},{"year":2020,"group":"G1","pct":5.3},{"year":2020,"group":"G1","pct":5.4},{"year":2020,"group":"G1","pct":5.5},{"year":2020,"group":"G1","pct":5.6},{"year":2020,"group":"G1","pct":5.7},{"year":2020,"group":"G1","pct":5.8},{"year":2020,"group":"G1","pct":5.9},{"year":2020,"group":"G1","pct":6},{"year":2020,"group":"G1","pct":6.1},{"year":2020,"group":"G1","pct":6.2},{"year":2020,"group":"G1","pct":6.3},{"year":2020,"group":"G1","pct":6.4},{"year":2020,"group":"G1","pct":6.5},{"year":2020,"group":"G1","pct":6.5},{"year":2020,"group":"G1","pct":6.5},{"year":2020,"group":"G1","pct":6.5},{"year":2020,"group":"G1","pct":6.5},{"year":2020,"group":"G1","pct":6.5},{"year":2020,"group":"G1","pct":8.5},
{"year":2020,"group":"G3","pct":22.7},{"year":2020,"group":"G3","pct":23},{"year":2020,"group":"G3","pct":26.7},{"year":2020,"group":"G3","pct":29.3}
]},
"transform":[
{"window":[{"op":"row_number","as":"rk"}],"groupby":["year"],"sort":[{"field":"pct","order":"ascending"}]},
{"bin":{"step":2},"field":"pct","as":"pbin"},
{"joinaggregate":[{"op":"count","as":"nbin"}],"groupby":["year","pbin"]},
{"calculate":"(((datum.rk*0.6180339887)%1)-0.5)*min(1,0.2+datum.nbin/15)","as":"jit"}
],
"mark":{"type":"circle","size":58,"opacity":1,"clip":false},
"encoding":{
"x":{"field":"year","type":"ordinal","title":"Years","scale":{"paddingInner":0.54,"paddingOuter":0.27},
"axis":{"labelAngle":0,"labelFontSize":21,"labelColor":"#222","labelPadding":28,"ticks":false,"domainColor":"#9e9e9e","domainWidth":1.5,"titleFontSize":22,"titleFontWeight":"normal","titleColor":"#222","titlePadding":23}},
"xOffset":{"field":"jit","type":"quantitative","scale":{"domain":[-0.5,0.5],"range":[0,47]}},
"y":{"field":"pct","type":"quantitative","title":"Percentage","scale":{"domain":[0,60],"nice":false,"clamp":false},
"axis":{"values":[0,10,20,30,40,50,60],"domain":false,"ticks":false,"labelFontSize":21,"labelColor":"#222","labelPadding":14,"gridColor":"#ececec","titleFontSize":22,"titleFontWeight":"normal","titleColor":"#222","titlePadding":40}},
"color":{"field":"group","type":"nominal","legend":null,"scale":{"domain":["G1","G2","G3","G4","G5","G6","G7","G8","G9"],"range":["#4682b4","#ba55d3","#006400","#20b2aa","#d2b48c","#bc8f8f","#f4a460","#daa520","#dc143c"]}},
"order":{"field":"group","type":"nominal","sort":"ascending"}
}
}
